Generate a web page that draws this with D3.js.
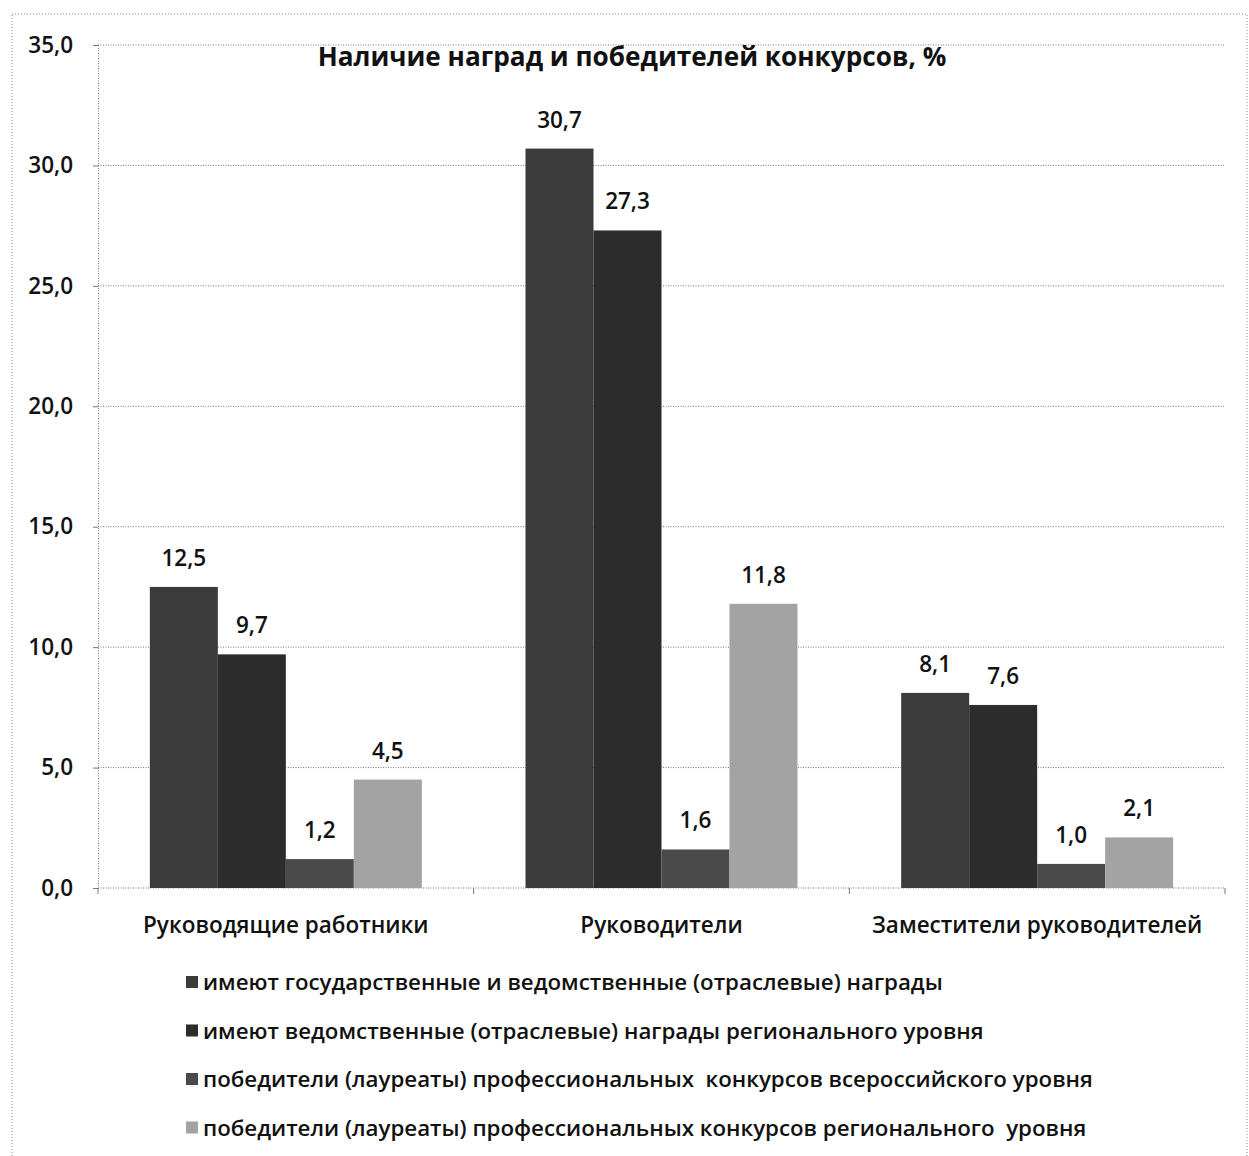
<!DOCTYPE html>
<html>
<head>
<meta charset="utf-8">
<script src="https://cdn.jsdelivr.net/npm/d3@7"></script>
<style>
  body { margin: 0; background: #fff; }
  text { font-family: "Open Sans", "DejaVu Sans", sans-serif; fill: #111; white-space: pre; }
</style>
</head>
<body>
<div id="chart"></div>
<script>
// data
var categories = ["Руководящие работники", "Руководители", "Заместители руководителей"];
var seriesNames = [
  "имеют государственные и ведомственные (отраслевые) награды",
  "имеют ведомственные (отраслевые) награды регионального уровня",
  "победители (лауреаты) профессиональных  конкурсов всероссийского уровня",
  "победители (лауреаты) профессиональных конкурсов регионального  уровня"
];
var stateAwards = [12.5, 30.7, 8.1];
var regionalAwards = [9.7, 27.3, 7.6];
var allRussiaWinners = [1.2, 1.6, 1.0];
var regionalWinners = [4.5, 11.8, 2.1];
var yTicks = [0, 5, 10, 15, 20, 25, 30, 35];

var seriesValues = [stateAwards, regionalAwards, allRussiaWinners, regionalWinners];
var colors = ["#3b3b3b", "#2c2c2c", "#4a4a4a", "#a3a3a3"];

var W = 1249, H = 1156;
var margin = {left: 98, right: 24, top: 45, bottom: 268};
var width = W - margin.left - margin.right;
var height = H - margin.top - margin.bottom;

var locale = d3.formatLocale({decimal: ",", thousands: " ", grouping: [3], currency: ["", ""]});
var fmt = locale.format(".1f");

var svg = d3.select("#chart").append("svg")
  .attr("width", W)
  .attr("height", H);

// outer chart border (dotted, as in the scan)
svg.append("rect")
  .attr("x", 12).attr("y", 14)
  .attr("width", W - 14).attr("height", H + 10)
  .attr("fill", "none")
  .attr("stroke", "#888")
  .attr("stroke-dasharray", "1,2");

var g = svg.append("g")
  .attr("transform", "translate(" + margin.left + "," + margin.top + ")");

var x0 = d3.scaleBand()
  .domain(categories)
  .range([0, width])
  .paddingInner(0.276)
  .paddingOuter(0.138);

var band = d3.scaleBand()
  .domain(categories)
  .range([0, width]);

var x1 = d3.scaleBand()
  .domain(d3.range(seriesNames.length))
  .range([0, x0.bandwidth()]);

var y = d3.scaleLinear()
  .domain([0, 35])
  .range([height, 0]);

// gridlines
g.append("g")
  .selectAll("line")
  .data(yTicks)
  .enter().append("line")
  .attr("x1", 0)
  .attr("x2", width)
  .attr("y1", function(d) { return y(d); })
  .attr("y2", function(d) { return y(d); })
  .attr("stroke", "#777")
  .attr("stroke-dasharray", "1,1.5");

// y axis
var yAxis = g.append("g")
  .call(d3.axisLeft(y).tickValues(yTicks).tickFormat(fmt).tickSize(5).tickPadding(20));
yAxis.select(".domain").attr("stroke", "#777").attr("stroke-dasharray", "1,1.5");
yAxis.selectAll(".tick line").attr("stroke", "#777");
yAxis.selectAll("text")
  .style("font-size", "22.5px")
  .style("font-weight", 600)
  .attr("fill", "#111");

// x axis: ticks between the categories
var xAxis = g.append("g")
  .attr("transform", "translate(0," + height + ")");
xAxis.selectAll("line")
  .data(d3.range(categories.length + 1))
  .enter().append("line")
  .attr("x1", function(d) { return d * band.step(); })
  .attr("x2", function(d) { return d * band.step(); })
  .attr("y1", 0).attr("y2", 6)
  .attr("stroke", "#777");

xAxis.selectAll("text")
  .data(categories)
  .enter().append("text")
  .attr("x", function(d) { return x0(d) + x0.bandwidth() / 2; })
  .attr("y", 45)
  .attr("text-anchor", "middle")
  .style("font-size", "22.5px")
  .style("font-weight", 600)
  .text(function(d) { return d; });

// bars
var groups = g.selectAll(".group")
  .data(categories)
  .enter().append("g")
  .attr("class", "group")
  .attr("transform", function(d) { return "translate(" + x0(d) + ",0)"; });

groups.selectAll("rect")
  .data(function(d, ci) { return seriesValues.map(function(s, si) { return {si: si, v: s[ci]}; }); })
  .enter().append("rect")
  .attr("x", function(d) { return x1(d.si); })
  .attr("width", x1.bandwidth())
  .attr("y", function(d) { return y(d.v); })
  .attr("height", function(d) { return height - y(d.v); })
  .attr("fill", function(d) { return colors[d.si]; });

groups.selectAll(".lbl")
  .data(function(d, ci) { return seriesValues.map(function(s, si) { return {si: si, v: s[ci]}; }); })
  .enter().append("text")
  .attr("class", "lbl")
  .attr("x", function(d) { return x1(d.si) + x1.bandwidth() / 2; })
  .attr("y", function(d) { return y(d.v) - 21; })
  .attr("text-anchor", "middle")
  .style("font-size", "22.5px")
  .style("font-weight", 600)
  .text(function(d) { return fmt(d.v); });

// title
svg.append("text")
  .attr("x", 632)
  .attr("y", 66)
  .attr("text-anchor", "middle")
  .style("font-size", "26.2px")
  .style("font-weight", 700)
  .text("Наличие наград и победителей конкурсов, %");

// legend
var legend = svg.append("g")
  .attr("transform", "translate(186,982)");

var items = legend.selectAll("g")
  .data(seriesNames)
  .enter().append("g")
  .attr("transform", function(d, i) { return "translate(0," + i * 48.5 + ")"; });

items.append("rect")
  .attr("x", 0).attr("y", -6)
  .attr("width", 12).attr("height", 12)
  .attr("fill", function(d, i) { return colors[i]; });

items.append("text")
  .attr("x", 17)
  .attr("y", 8)
  .style("font-size", "22.3px")
  .style("font-weight", 600)
  .text(function(d) { return d; });
</script>
</body>
</html>
